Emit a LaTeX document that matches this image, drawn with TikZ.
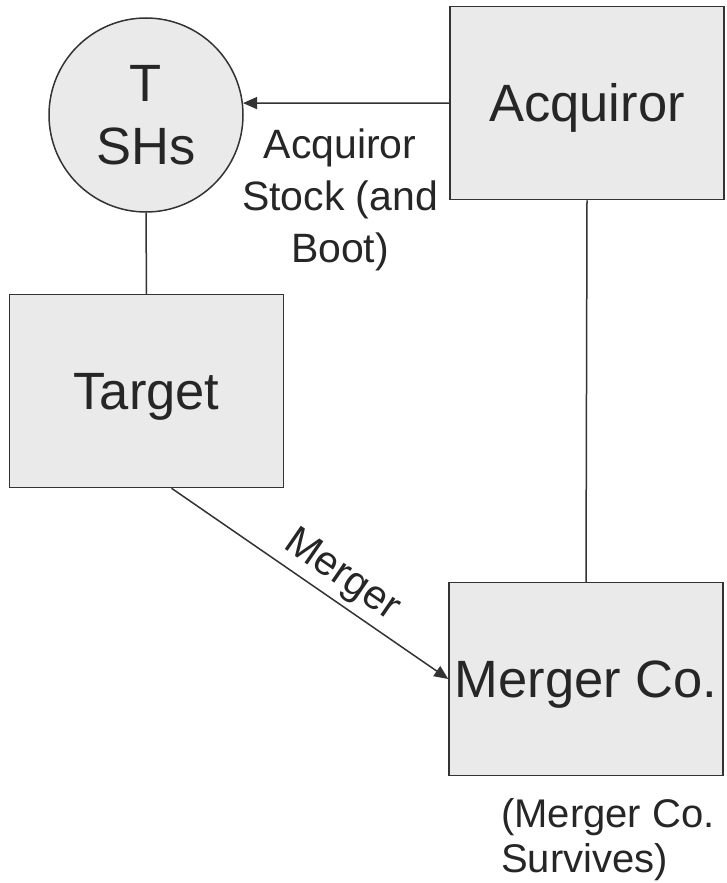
\documentclass[tikz,border=0pt]{standalone}
\usepackage{fontspec}
\setmainfont{Liberation Sans}
\usetikzlibrary{arrows.meta}
\definecolor{boxfill}{HTML}{EAEAEA}
\definecolor{edge}{HTML}{333333}
\definecolor{ink}{HTML}{262626}
\begin{document}
\begin{tikzpicture}[x=1pt,y=-1pt,
  every node/.style={text=ink},
  bigtext/.style={font=\fontsize{52.5}{63}\selectfont},
  smalltext/.style={font=\fontsize{41}{52}\selectfont},
  entity/.style={draw=edge,line width=1.5pt,fill=boxfill,rectangle,inner sep=0pt,
    minimum width=274pt,minimum height=193pt,bigtext,text height=37.6pt,text depth=0pt},
  holders/.style={draw=edge,line width=1.5pt,fill=boxfill,circle,inner sep=0pt,
    minimum size=194pt,bigtext,align=center},
  link/.style={draw=edge,line width=1.5pt},
  flow/.style={link,-{Triangle[length=14pt,width=12pt]}}
]
\useasboundingbox (0,0) rectangle (726,883);
\node[holders] (tsh) at (146,115) {T\\SHs};
\node[entity] (acq) at (587,103) {Acquiror};
\node[entity] (tgt) at (146.5,391) {Target};
\node[entity] (mco) at (586,679) {Merger Co.};
\draw[flow] (acq.west) -- (tsh.7);
\draw[link] (tsh.south) -- (tgt.north);
\draw[link] (acq.south) -- (mco.north);
\draw[flow] ([xshift=25pt]tgt.south) -- node[sloped,above,pos=0.565,inner sep=5pt,font=\fontsize{41}{46}\selectfont] (mlab) {Merger} (mco.west);
\node[smalltext,align=center,anchor=north,inner sep=0pt] (stk) at (340,129) {Acquiror\\Stock (and\\Boot)};
\node[font=\fontsize{40}{45}\selectfont,align=left,anchor=north west,inner sep=0pt] (surv) at (501,798) {(Merger Co.\\Survives)};
\end{tikzpicture}
\end{document}
